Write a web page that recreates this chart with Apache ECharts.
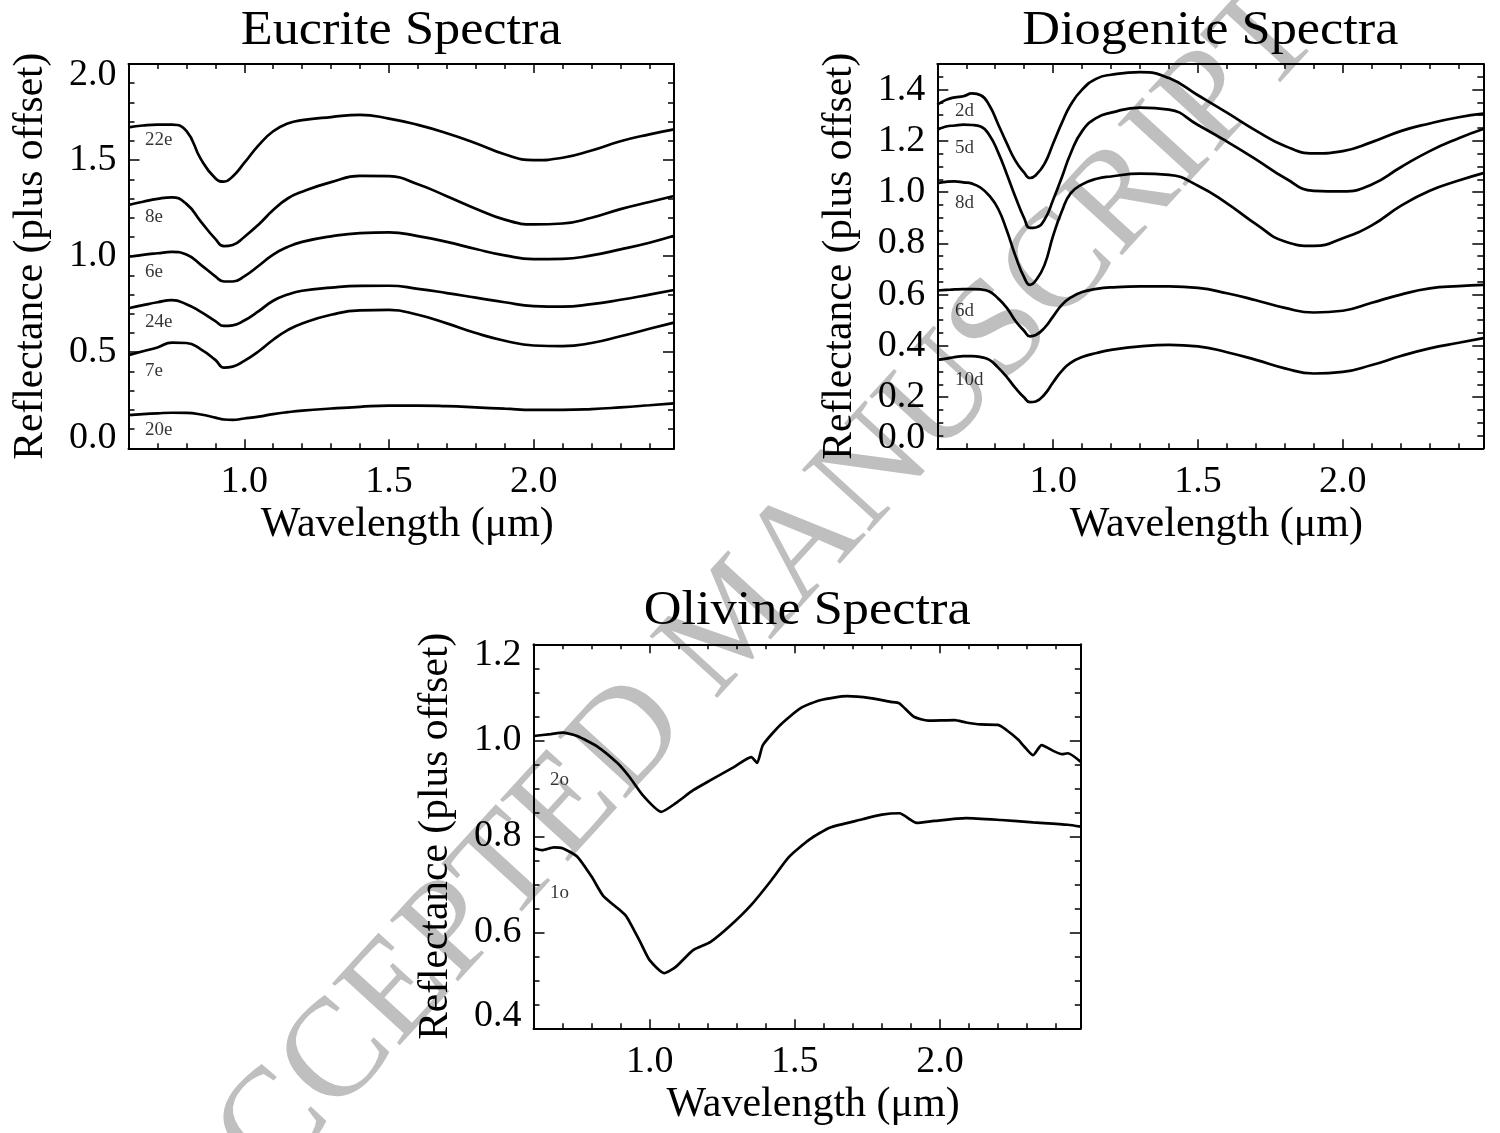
<!DOCTYPE html>
<html>
<head>
<meta charset="utf-8">
<script src="https://cdn.jsdelivr.net/npm/echarts@6/dist/echarts.min.js"></script>
<style>
html,body{margin:0;padding:0;background:#fff;}
#chart{width:1500px;height:1133px;}
</style>
</head>
<body>
<div id="chart"></div>
<script>
// ---------------- DATA ----------------
const X_MIN = 0.6, X_MAX = 2.485;
const xMajorTicks = [1.0, 1.5, 2.0];
const eucYTicks = [0.0, 0.5, 1.0, 1.5, 2.0];
const dioYTicks = [0.0, 0.2, 0.4, 0.6, 0.8, 1.0, 1.2, 1.4];
const oliYTicks = [0.4, 0.6, 0.8, 1.0, 1.2];

// Eucrite spectra (wavelength grid shared)
const eucWl = [0.60,0.65,0.70,0.75,0.80,0.85,0.90,0.93,0.96,1.00,1.05,1.10,1.15,1.20,1.30,1.40,1.50,1.60,1.70,1.80,1.90,2.00,2.10,2.20,2.30,2.40,2.485];
const euc22e = [1.670,1.680,1.685,1.684,1.652,1.505,1.405,1.388,1.415,1.485,1.578,1.650,1.690,1.708,1.724,1.735,1.716,1.683,1.640,1.588,1.530,1.500,1.512,1.550,1.598,1.634,1.660];
const euc8e  = [1.266,1.283,1.298,1.306,1.272,1.180,1.090,1.052,1.058,1.100,1.165,1.240,1.300,1.335,1.385,1.418,1.416,1.374,1.312,1.247,1.190,1.165,1.170,1.200,1.245,1.282,1.313];
const euc6e  = [0.997,1.007,1.015,1.022,1.008,0.955,0.895,0.868,0.868,0.895,0.950,1.008,1.048,1.074,1.103,1.120,1.124,1.104,1.074,1.037,1.004,0.985,0.986,1.004,1.035,1.070,1.106];
const euc24e = [0.729,0.745,0.760,0.771,0.750,0.710,0.662,0.637,0.640,0.665,0.714,0.768,0.800,0.820,0.836,0.845,0.846,0.830,0.808,0.784,0.760,0.740,0.737,0.750,0.773,0.800,0.824];
const euc7e  = [0.485,0.505,0.525,0.550,0.548,0.515,0.460,0.420,0.425,0.455,0.505,0.565,0.615,0.650,0.695,0.718,0.720,0.695,0.650,0.600,0.560,0.535,0.532,0.548,0.583,0.622,0.654];
const euc20e = [0.173,0.178,0.182,0.185,0.184,0.176,0.160,0.150,0.148,0.155,0.165,0.178,0.188,0.196,0.207,0.216,0.222,0.222,0.219,0.213,0.206,0.200,0.200,0.204,0.213,0.224,0.234];

// Diogenite spectra
const dioWl = [0.60,0.63,0.66,0.69,0.72,0.75,0.78,0.81,0.84,0.87,0.90,0.92,0.94,0.97,1.00,1.03,1.06,1.10,1.15,1.20,1.30,1.40,1.50,1.60,1.70,1.80,1.90,2.00,2.10,2.20,2.30,2.40,2.485];
const dio2d  = [1.341,1.360,1.370,1.374,1.385,1.378,1.338,1.265,1.190,1.122,1.076,1.055,1.066,1.110,1.190,1.270,1.340,1.400,1.443,1.458,1.468,1.445,1.378,1.310,1.240,1.180,1.151,1.160,1.195,1.238,1.268,1.292,1.306];
const dio5d  = [1.243,1.256,1.260,1.263,1.262,1.256,1.222,1.155,1.070,0.980,0.898,0.860,0.862,0.892,0.970,1.058,1.150,1.238,1.290,1.310,1.330,1.322,1.262,1.197,1.128,1.055,1.005,1.003,1.030,1.097,1.160,1.210,1.246];
const dio8d  = [1.035,1.040,1.042,1.038,1.033,1.017,0.985,0.935,0.850,0.750,0.667,0.638,0.655,0.715,0.830,0.925,0.995,1.030,1.052,1.061,1.072,1.067,1.025,0.956,0.875,0.807,0.790,0.820,0.870,0.946,1.005,1.045,1.074];
const dio6d  = [0.616,0.618,0.620,0.621,0.621,0.620,0.612,0.585,0.548,0.497,0.458,0.437,0.442,0.470,0.515,0.560,0.588,0.610,0.622,0.628,0.632,0.632,0.626,0.605,0.578,0.548,0.530,0.537,0.568,0.600,0.624,0.633,0.638];
const dio10d = [0.345,0.350,0.356,0.360,0.360,0.356,0.345,0.315,0.278,0.235,0.198,0.180,0.183,0.210,0.258,0.302,0.333,0.356,0.372,0.384,0.398,0.404,0.398,0.375,0.345,0.312,0.292,0.298,0.325,0.360,0.390,0.412,0.430];

// Olivine spectra
const oli2oWl = [0.60,0.66,0.70,0.75,0.82,0.89,0.93,0.98,1.04,1.09,1.15,1.21,1.29,1.35,1.37,1.39,1.45,1.52,1.59,1.68,1.76,1.83,1.86,1.91,1.96,2.05,2.09,2.14,2.20,2.23,2.27,2.29,2.32,2.35,2.39,2.42,2.44,2.485];
const oli2o   = [1.009,1.013,1.016,1.009,0.987,0.952,0.924,0.883,0.851,0.869,0.896,0.917,0.944,0.965,0.953,0.990,1.032,1.067,1.084,1.092,1.088,1.080,1.077,1.049,1.041,1.042,1.037,1.033,1.032,1.021,1.001,0.987,0.969,0.990,0.978,0.971,0.973,0.955];
const oli1oWl = [0.60,0.63,0.67,0.70,0.75,0.80,0.84,0.89,0.92,0.97,1.00,1.05,1.09,1.15,1.21,1.28,1.35,1.42,1.48,1.55,1.62,1.73,1.80,1.86,1.92,1.98,2.09,2.21,2.32,2.44,2.485];
const oli1o   = [0.775,0.771,0.777,0.775,0.758,0.716,0.676,0.650,0.633,0.577,0.542,0.515,0.528,0.563,0.580,0.615,0.657,0.709,0.757,0.793,0.818,0.835,0.845,0.848,0.828,0.832,0.838,0.834,0.829,0.824,0.820];

// Curve labels: [name, x, y] in data units
const eucLabels = [['22e',0.657,1.604],['8e',0.657,1.205],['6e',0.657,0.919],['24e',0.657,0.659],['7e',0.657,0.404],['20e',0.657,0.095]];
const dioLabels = [['2d',0.661,1.315],['5d',0.661,1.172],['8d',0.661,0.957],['6d',0.661,0.534],['10d',0.661,0.267]];
const oliLabels = [['2o',0.657,0.917],['1o',0.657,0.681]];

// ---------------- BUILD ----------------
const FONT = 'Liberation Serif';
function r(v){ return Math.round(v*1000)/1000; }
function minorList(min, max, step, majors){
  const out=[]; const n=Math.round((max-min)/step);
  for(let i=0;i<=n;i++){ const v=r(min+i*step); if(v>min && v<max && !majors.some(m=>Math.abs(m-v)<1e-6)) out.push(v); }
  return out;
}
const xMinor = minorList(0.6, 2.5, 0.1, xMajorTicks).filter(v=>v<X_MAX);

const grids = [
  {left:128.5, top:64, width:545.5, height:384.3},
  {left:937.3, top:64, width:546, height:384.3},
  {left:533.5, top:644.3, width:547.3, height:384}
];
const yCfg = [
  {min:0, max:2.0, majors:eucYTicks, minor:minorList(0,2.0,0.1,eucYTicks), padTop:22, padBot:20},
  {min:0, max:1.5, majors:dioYTicks, minor:minorList(0,1.5,0.05,dioYTicks), padTop:0, padBot:20},
  {min:0.4, max:1.2, majors:oliYTicks, minor:minorList(0.4,1.2,0.05,oliYTicks), padTop:22, padBot:24}
];
const lineC = {color:'#000', width:2};
const tickC = {color:'#000', width:1.5};
const ZL = 1;
const xAxes=[], yAxes=[];
grids.forEach((g,i)=>{
  const bx = {gridIndex:i, type:'value', min:X_MIN, max:X_MAX, splitLine:{show:false}, zlevel:ZL, z:5};
  xAxes.push(Object.assign({}, bx, {position:'bottom',
    axisLine:{show:true, onZero:false, lineStyle:lineC},
    axisTick:{show:true, inside:true, length:9, customValues:xMajorTicks, lineStyle:tickC},
    axisLabel:{show:true, customValues:xMajorTicks, formatter:v=>Number(v).toFixed(1), color:'#000', fontFamily:FONT, fontSize:38, margin:15},
    name:'Wavelength (μm)', nameLocation:'middle', nameGap:56,
    nameTextStyle:{color:'#000', fontFamily:FONT, fontSize:42, padding:[0,0,0,12]}}));
  xAxes.push(Object.assign({}, bx, {position:'bottom', axisLine:{show:false, onZero:false},
    axisTick:{show:true, inside:true, length:5, customValues:xMinor, lineStyle:tickC}, axisLabel:{show:false}}));
  xAxes.push(Object.assign({}, bx, {position:'top', axisLine:{show:true, onZero:false, lineStyle:lineC},
    axisTick:{show:true, inside:true, length:9, customValues:xMajorTicks, lineStyle:tickC}, axisLabel:{show:false}}));
  xAxes.push(Object.assign({}, bx, {position:'top', axisLine:{show:false, onZero:false},
    axisTick:{show:true, inside:true, length:5, customValues:xMinor, lineStyle:tickC}, axisLabel:{show:false}}));
  const c = yCfg[i];
  const by = {gridIndex:i, type:'value', min:c.min, max:c.max, splitLine:{show:false}, zlevel:ZL, z:5};
  const richBase = {color:'#000', fontFamily:FONT, fontSize:38};
  yAxes.push(Object.assign({}, by, {position:'left',
    axisLine:{show:true, onZero:false, lineStyle:lineC},
    axisTick:{show:true, inside:true, length:11, customValues:c.majors, lineStyle:tickC},
    axisLabel:{show:true, customValues:c.majors, color:'#000', fontFamily:FONT, fontSize:38, margin:12,
      formatter:v=>{ const t=Number(v).toFixed(1);
        if (c.padTop && Math.abs(v-c.max)<1e-6) return '{t|'+t+'}';
        if (c.padBot && Math.abs(v-c.min)<1e-6) return '{b|'+t+'}';
        return t; },
      rich:{t:Object.assign({padding:[c.padTop,0,0,0]}, richBase), b:Object.assign({padding:[0,0,c.padBot,0]}, richBase)}},
    name:'Reflectance (plus offset)', nameLocation:'middle', nameGap:76,
    nameTextStyle:{color:'#000', fontFamily:FONT, fontSize:41.5}}));
  yAxes.push(Object.assign({}, by, {position:'left', axisLine:{show:false, onZero:false},
    axisTick:{show:true, inside:true, length:6, customValues:c.minor, lineStyle:tickC}, axisLabel:{show:false}}));
  yAxes.push(Object.assign({}, by, {position:'right', axisLine:{show:true, onZero:false, lineStyle:lineC},
    axisTick:{show:true, inside:true, length:11, customValues:c.majors, lineStyle:tickC}, axisLabel:{show:false}}));
  yAxes.push(Object.assign({}, by, {position:'right', axisLine:{show:false, onZero:false},
    axisTick:{show:true, inside:true, length:6, customValues:c.minor, lineStyle:tickC}, axisLabel:{show:false}}));
});

function zip(wl, vals){ return wl.map((w,k)=>[w, vals[k]]); }
const series=[];
function addLine(gi, name, wl, vals, smooth){
  series.push({type:'line', name, xAxisIndex:gi*4, yAxisIndex:gi*4, data:zip(wl,vals),
    showSymbol:false, symbol:'none', smooth:smooth, silent:true, zlevel:ZL, z:3,
    lineStyle:{color:'#000', width:2.7}});
}
[['22e',euc22e],['8e',euc8e],['6e',euc6e],['24e',euc24e],['7e',euc7e],['20e',euc20e]].forEach(s=>addLine(0,s[0],eucWl,s[1],0.5));
[['2d',dio2d],['5d',dio5d],['8d',dio8d],['6d',dio6d],['10d',dio10d]].forEach(s=>addLine(1,s[0],dioWl,s[1],0.5));
addLine(2,'2o',oli2oWl,oli2o,0.2);
addLine(2,'1o',oli1oWl,oli1o,0.2);

function addLabels(gi, labels){
  series.push({type:'scatter', xAxisIndex:gi*4, yAxisIndex:gi*4, symbolSize:0.1, silent:true, zlevel:ZL, z:4,
    itemStyle:{color:'transparent'},
    data:labels.map(l=>({name:l[0], value:[l[1], l[2]]})),
    label:{show:true, formatter:p=>p.name, position:[0,0], align:'left', verticalAlign:'middle',
      color:'#000', fontFamily:FONT, fontSize:19}});
}
addLabels(0,eucLabels); addLabels(1,dioLabels); addLabels(2,oliLabels);

const titles = [['Eucrite Spectra',0],['Diogenite Spectra',1],['Olivine Spectra',2]];
const graphic = titles.map(t=>{
  const g = grids[t[1]];
  return {type:'text', x:g.left+g.width/2, y:g.top-33, zlevel:ZL, z:10, scaleX:1.09,
    style:{text:t[0], fill:'#000', font:'48px "'+FONT+'"', textAlign:'center', textVerticalAlign:'middle'}};
});
graphic.push({type:'text', x:736, y:623, rotation:0.83, zlevel:0, z:0, silent:true,
  style:{text:'ACCEPTED MANUSCRIPT', fill:'#bfbfbf', font:'140px "'+FONT+'"', textAlign:'center', textVerticalAlign:'middle'}});

const chart = echarts.init(document.getElementById('chart'), null, {renderer:'canvas'});
chart.setOption({
  backgroundColor:'#fff',
  animation:false,
  grid:grids,
  xAxis:xAxes,
  yAxis:yAxes,
  series:series,
  graphic:graphic
});
</script>
</body>
</html>
